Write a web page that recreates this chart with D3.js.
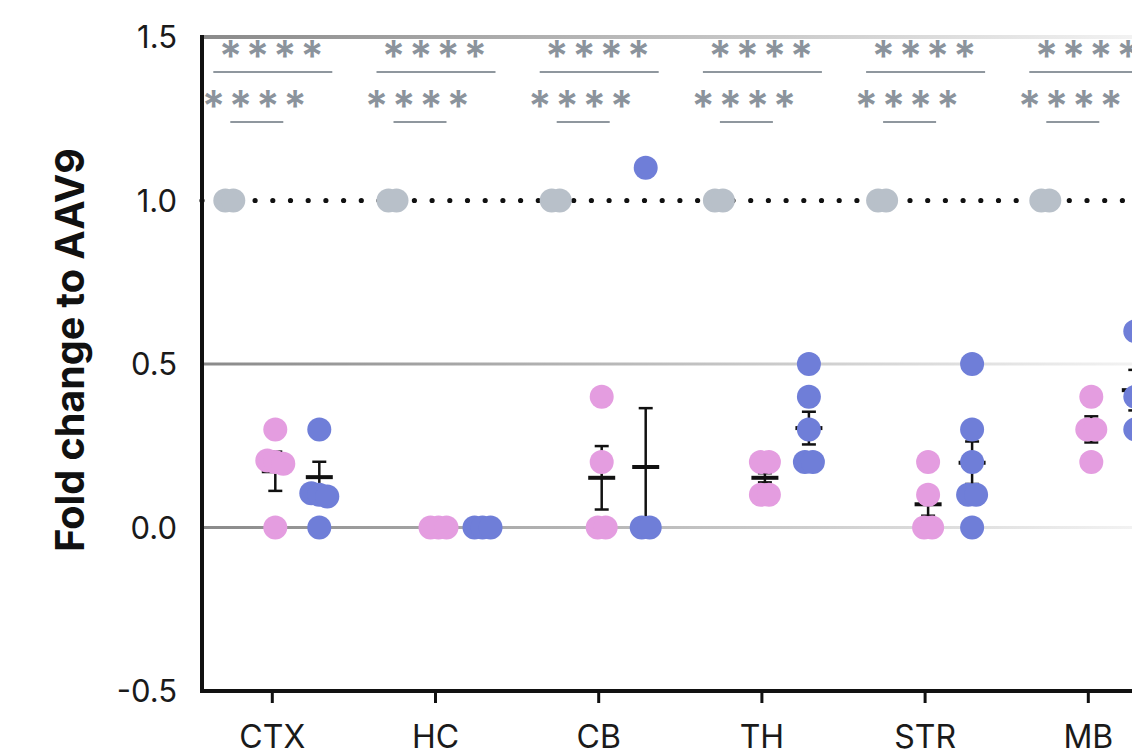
<!DOCTYPE html>
<html>
<head>
<meta charset="utf-8">
<script src="https://cdn.jsdelivr.net/npm/d3@7"></script>
<style>
  html, body { margin: 0; padding: 0; background: #fff; }
  svg { display: block; font-family: Inter, "Noto Sans", sans-serif; }
</style>
</head>
<body>
<svg id="chart" width="1132" height="756"></svg>
<script>
// ─── Data ─────────────────────────────────────────────────────
const categories = ['CTX', 'HC', 'CB', 'TH', 'STR', 'MB'];
const yTicks = [-0.5, 0.0, 0.5, 1.0, 1.5];

// AAV9 reference (normalised to 1)
const aav9Values = [[1, 1], [1, 1], [1, 1], [1, 1], [1, 1], [1, 1]];

// pink group
const pinkValues = [
    [0.3, 0.205, 0.2, 0.195, 0],
    [0, 0, 0],
    [0.4, 0.2, 0, 0],
    [0.2, 0.2, 0.1, 0.1],
    [0.2, 0.1, 0, 0],
    [0.4, 0.3, 0.3, 0.2]
];
const pinkMean = [0.172, 0, 0.152, 0.152, 0.071, 0.30];
const pinkSem  = [0.06, 0, 0.097, 0.014, 0.035, 0.04];

// blue group
const blueValues = [
    [0.3, 0.105, 0.1, 0.095, 0],
    [0, 0, 0],
    [1.1, 0, 0],
    [0.5, 0.4, 0.3, 0.2, 0.2],
    [0.5, 0.3, 0.2, 0.1, 0.1, 0],
    [0.6, 0.4, 0.3]
];
const blueMean = [0.154, 0, 0.185, 0.304, 0.198, 0.42];
const blueSem  = [0.047, 0, 0.18, 0.05, 0.065, 0.062];

// significance labels (AAV9 vs blue on top row, AAV9 vs pink below)
const sigTop    = ['****', '****', '****', '****', '****', '****'];
const sigBottom = ['****', '****', '****', '****', '****', '****'];

// ─── Layout ───────────────────────────────────────────────────
const COLORS = { aav9: '#b8c0c9', pink: '#e49de0', blue: '#6f7ed8' };
const GROUP_OFFSET = { aav9: -43, pink: 3, blue: 47 };
const R = 12;
const DODGE = 8;

const svg = d3.select('#chart');
const W = 1132;

const y = d3.scaleLinear().domain([-0.5, 1.5]).range([691, 37]);
const x = d3.scalePoint().domain(categories).range([272.3, 1088.3]);
const axisX = 202;

// gradient for the light grid lines
const defs = svg.append('defs');
const grad = defs.append('linearGradient')
    .attr('id', 'gridFade')
    .attr('gradientUnits', 'userSpaceOnUse')
    .attr('x1', axisX).attr('x2', W).attr('y1', 0).attr('y2', 0);
grad.append('stop').attr('offset', '0%').attr('stop-color', '#8a8a8a');
grad.append('stop').attr('offset', '45%').attr('stop-color', '#b9b9b9');
grad.append('stop').attr('offset', '100%').attr('stop-color', '#f2f2f2');

// grid lines at 1.5, 0.5, 0.0
svg.append('g').selectAll('line')
    .data([1.5, 0.5, 0.0])
    .enter().append('line')
    .attr('x1', axisX).attr('x2', W)
    .attr('y1', d => y(d)).attr('y2', d => y(d))
    .attr('stroke', 'url(#gridFade)')
    .attr('stroke-width', d => d === 1.5 ? 4 : 3);

// dotted reference line at 1.0
svg.append('line')
    .attr('x1', axisX).attr('x2', W)
    .attr('y1', y(1)).attr('y2', y(1))
    .attr('stroke', '#111')
    .attr('stroke-width', 5.2)
    .attr('stroke-linecap', 'round')
    .attr('stroke-dasharray', '0 17.7');

// axes
svg.append('line')
    .attr('x1', axisX).attr('x2', axisX)
    .attr('y1', y(1.5) - 2).attr('y2', y(-0.5) + 2)
    .attr('stroke', '#111').attr('stroke-width', 4);
svg.append('line')
    .attr('x1', axisX - 2).attr('x2', W)
    .attr('y1', y(-0.5)).attr('y2', y(-0.5))
    .attr('stroke', '#111').attr('stroke-width', 4);

// x ticks + labels
const xg = svg.append('g');
xg.selectAll('line.tick')
    .data(categories).enter().append('line')
    .attr('class', 'tick')
    .attr('x1', d => x(d)).attr('x2', d => x(d))
    .attr('y1', y(-0.5)).attr('y2', y(-0.5) + 12)
    .attr('stroke', '#111').attr('stroke-width', 3);
xg.selectAll('text')
    .data(categories).enter().append('text')
    .attr('x', d => x(d))
    .attr('y', 748)
    .attr('text-anchor', 'middle')
    .attr('font-size', 32)
    .attr('fill', '#1a1a1a')
    .text(d => d);

// y tick labels
svg.append('g').selectAll('text')
    .data(yTicks).enter().append('text')
    .attr('x', 177)
    .attr('y', d => y(d) + 11)
    .attr('text-anchor', 'end')
    .attr('font-size', 31)
    .attr('fill', '#1a1a1a')
    .text(d => d.toFixed(1));

// y title
svg.append('text')
    .attr('transform', `translate(84, ${350}) rotate(-90)`)
    .attr('text-anchor', 'middle')
    .attr('font-size', 39.5)
    .attr('font-weight', 700)
    .attr('fill', '#111')
    .text('Fold change to AAV9');

// ─── Significance annotations ────────────────────────────────
const sig = svg.append('g');
const SIG_ROWS = [
    { labels: sigTop,    textDx: 1,   base: 71,  lineY: 72,  x0: -59, x1: 60 },
    { labels: sigBottom, textDx: -16, base: 121, lineY: 122, x0: -42, x1: 11 }
];
SIG_ROWS.forEach(row => {
    sig.selectAll(null)
        .data(categories).enter().append('line')
        .attr('x1', d => x(d) + row.x0).attr('x2', d => x(d) + row.x1)
        .attr('y1', row.lineY).attr('y2', row.lineY)
        .attr('stroke', '#8f979e').attr('stroke-width', 2);
    sig.selectAll(null)
        .data(categories).enter().append('text')
        .attr('x', d => x(d) + row.textDx)
        .attr('y', row.base)
        .attr('text-anchor', 'middle')
        .attr('font-size', 43)
        .attr('font-weight', 600)
        .attr('letter-spacing', 4)
        .attr('fill', '#8b939c')
        .text((d, i) => row.labels[i]);
});

// ─── Points (simple dodge for equal values) ──────────────────
function dodge(values) {
    const bins = d3.group(values.map((v, i) => ({ v, i })), d => Math.round(d.v * 40));
    const out = [];
    bins.forEach(list => {
        list.forEach((d, k) => out.push({ v: d.v, dx: (k - (list.length - 1) / 2) * DODGE }));
    });
    return out;
}

function drawGroup(key, valuesList, means, sems) {
    const g = svg.append('g');
    categories.forEach((cat, i) => {
        const cx = x(cat) + GROUP_OFFSET[key];

        if (means) {
            const m = means[i], s = sems[i];
            g.append('line')
                .attr('x1', cx).attr('x2', cx)
                .attr('y1', y(m - s)).attr('y2', y(m + s))
                .attr('stroke', '#111').attr('stroke-width', 2.5);
            [m - s, m + s].forEach(v => {
                g.append('line')
                    .attr('x1', cx - 7).attr('x2', cx + 7)
                    .attr('y1', y(v)).attr('y2', y(v))
                    .attr('stroke', '#111').attr('stroke-width', 2.5);
            });
            g.append('line')
                .attr('x1', cx - 13.5).attr('x2', cx + 13.5)
                .attr('y1', y(m)).attr('y2', y(m))
                .attr('stroke', '#111').attr('stroke-width', 4);
        }

        g.selectAll(null)
            .data(dodge(valuesList[i]))
            .enter().append('circle')
            .attr('cx', d => cx + d.dx)
            .attr('cy', d => y(d.v))
            .attr('r', R)
            .attr('fill', COLORS[key]);
    });
}

drawGroup('aav9', aav9Values, null, null);
drawGroup('pink', pinkValues, pinkMean, pinkSem);
drawGroup('blue', blueValues, blueMean, blueSem);
</script>
</body>
</html>
